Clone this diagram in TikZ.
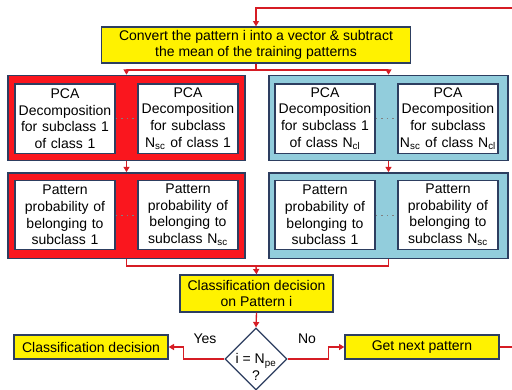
\documentclass[tikz,border=0pt]{standalone}
\usepackage{fontspec}
\setmainfont{Liberation Sans}
\usetikzlibrary{arrows.meta,positioning,shapes.geometric}
\definecolor{boxline}{RGB}{45,62,96}
\definecolor{flowred}{RGB}{214,28,36}
\definecolor{classred}{RGB}{250,22,30}
\definecolor{classblue}{RGB}{146,205,220}
\newcommand{\Sub}[2]{#1\textsubscript{#2}}
\tikzset{
  every picture/.style={line width=1pt},
  every node/.style={font=\fontsize{10.5}{12.4}\selectfont},
  stepbox/.style={draw=boxline, fill=yellow, align=center, inner sep=0pt},
  classbox/.style={draw=boxline, minimum height=64pt},
  subbox/.style={draw=boxline, fill=white, align=center, text width=73pt, minimum width=75pt, minimum height=52pt, inner sep=0pt},
  flow/.style={draw=flowred, -{Triangle[length=4pt,width=4.5pt]}},
  link/.style={draw=flowred},
  dots/.style={draw=gray, dash pattern=on 1.2pt off 3pt, line width=0.6pt},
  check/.style={draw=boxline, fill=white, diamond, aspect=1, inner sep=0pt, minimum size=46.5pt}
}
\begin{document}
\begin{tikzpicture}[x=0.75pt, y=-0.75pt]
  \useasboundingbox (0,0) rectangle (512,390);

  \node [stepbox, minimum width=231.75pt, minimum height=27pt] (conv) at (256,45)
    {Convert the pattern i into a vector \& subtract\\the mean of the training patterns};

  % class 1 / class N_cl
  \node [classbox, fill=classred, minimum width=177.75pt] (red1) at (126.5,118) {};
  \node [classbox, fill=classblue, minimum width=179.25pt] (blue1) at (388.5,118) {};
  \node [classbox, fill=classred, minimum width=177.75pt] (red2) at (126.5,215.5) {};
  \node [classbox, fill=classblue, minimum width=179.25pt] (blue2) at (388.5,215.5) {};

  \node [subbox] (pca11) at (65,118.5) {PCA\\Decomposition\\for subclass 1\\of class 1};
  \node [subbox] (pca12) at (188,118.5) {PCA\\Decomposition\\for subclass\\\Sub{N}{sc} of class 1};
  \node [subbox] (pca21) at (325,118.5) {PCA\\Decomposition\\for subclass 1\\of class \Sub{N}{cl}};
  \node [subbox] (pca22) at (448,118.5) {PCA\\Decomposition\\for subclass\\\Sub{N}{sc} of class \Sub{N}{cl}};

  \node [subbox] (prob11) at (65,215) {Pattern\\probability of\\belonging to\\subclass 1};
  \node [subbox] (prob12) at (188,215) {Pattern\\probability of\\belonging to\\subclass \Sub{N}{sc}};
  \node [subbox] (prob21) at (325,215) {Pattern\\probability of\\belonging to\\subclass 1};
  \node [subbox] (prob22) at (448,215) {Pattern\\probability of\\belonging to\\subclass \Sub{N}{sc}};

  \node [stepbox, minimum width=114.75pt, minimum height=27.75pt] (dec) at (256.5,293.5)
    {Classification decision\\on Pattern i};
  \node [check] (chk) at (256,359) {};
  \node (chktext) at (256,367) [align=center, inner sep=0pt] {i = \Sub{N}{pe}\\?};
  \node [stepbox, minimum width=115.5pt, minimum height=18pt] (yes) at (91,347) {Classification decision};
  \node [stepbox, minimum width=115.5pt, minimum height=18pt] (next) at (422,347) {Get next pattern};

  \coordinate (split) at (256,70);
  \coordinate (merge) at (256,266);
  \coordinate (loop) at (530,8);

  \draw [dots] (pca11) -- (pca12);
  \draw [dots] (pca21) -- (pca22);
  \draw [dots] (prob11) -- (prob12);
  \draw [dots] (prob21) -- (prob22);

  \draw [link] (conv.south) -- (split);
  \draw [flow] (split) -| (red1.north);
  \draw [flow] (split) -| (blue1.north);
  \draw [flow] (red1.south) -- (red2.north);
  \draw [flow] (blue1.south) -- (blue2.north);
  \draw [link] (red2.south) |- (merge);
  \draw [link] (blue2.south) |- (merge);
  \draw [flow] (merge) -- (dec.north);
  \draw [flow] (dec.south) -- (chk.north);

  \draw [flow] (chk.west) -- ++(-41,0) |- (yes.east);
  \draw [flow] (chk.east) -- ++(41,0) |- (next.west);
  \draw [flow] (next.east) -| (loop) -| (conv.north);

  \node at (205,339) {Yes};
  \node at (307,339) {No};
\end{tikzpicture}
\end{document}
